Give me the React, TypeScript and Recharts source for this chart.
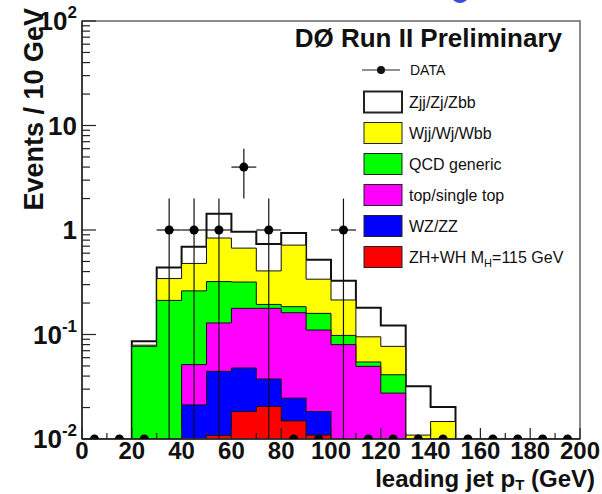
import React from 'react';
import {
  ComposedChart,
  Area,
  Scatter,
  ErrorBar,
  XAxis,
  YAxis,
  ReferenceArea,
  Legend,
  Label,
} from 'recharts';

const Y_MIN = 0.01;
const Y_MAX = 100;
const BIN_WIDTH = 10;
const FONT = '"Liberation Sans", Arial, Helvetica, sans-serif';

// lower edges of the 10 GeV bins
const binEdges = [0, 10, 20, 30, 40, 50, 60, 70, 80, 90, 100, 110, 120, 130, 140, 150, 160, 170, 180, 190];

// expected events per bin for each process
const zjjEvents = [0, 0, 0.007, 0.095, 0.213, 0.59, 0.292, 0.327, 0.218, 0.181, 0.112, 0.085, 0.045, 0.0211, 0.0055, 0, 0, 0, 0, 0];
const wjjEvents = [0, 0, 0.002, 0.131, 0.217, 0.517, 0.353, 0.212, 0.532, 0.179, 0.116, 0.0404, 0.0358, 0.0109, 0.0147, 0, 0, 0, 0, 0];
const qcdEvents = [0, 0, 0.077, 0.212, 0.21, 0.192, 0.14, 0.016, 0.023, 0.049, 0.018, 0.005, 0.0137, 0, 0, 0, 0, 0, 0, 0];
const topEvents = [0, 0, 0, 0, 0.0303, 0.0846, 0.13, 0.1405, 0.137, 0.092, 0.08, 0.0496, 0.0275, 0, 0, 0, 0, 0, 0, 0];
const dibosonEvents = [0, 0, 0, 0, 0.0212, 0.0336, 0.0295, 0.017, 0.0097, 0.0074, 0, 0, 0, 0, 0, 0, 0, 0, 0, 0];
const higgsEvents = [0, 0, 0, 0, 0, 0.0108, 0.0183, 0.0205, 0.0149, 0.0109, 0, 0, 0, 0, 0, 0, 0, 0, 0, 0];

// observed events per bin
const dataEvents = [0, 0, 0, 1, 1, 1, 4, 1, 0, 0, 1, 0, 0, 0, 0, 0, 0, 0, 0, 0];

const xMajorTicks = [0, 20, 40, 60, 80, 100, 120, 140, 160, 180, 200];
const xMinorTicks = [10, 30, 50, 70, 90, 110, 130, 150, 170, 190];
const yDecades = [0.01, 0.1, 1, 10, 100];
const yDecadeLabels = [['10', '-2'], ['10', '-1'], ['1', ''], ['10', ''], ['10', '2']];
const yMinorSteps = [2, 3, 4, 5, 6, 7, 8, 9];

// bottom of the stack first
const processes = [
  { key: 'higgs', name: 'ZH+WH M', sub: 'H', tail: '=115 GeV', color: '#ff0000', events: higgsEvents },
  { key: 'diboson', name: 'WZ/ZZ', color: '#0000ff', events: dibosonEvents },
  { key: 'top', name: 'top/single top', color: '#ff00ff', events: topEvents },
  { key: 'qcd', name: 'QCD generic', color: '#00ff00', events: qcdEvents },
  { key: 'wjj', name: 'Wjj/Wj/Wbb', color: '#ffff00', events: wjjEvents },
  { key: 'zjj', name: 'Zjj/Zj/Zbb', color: '#ffffff', events: zjjEvents },
];

const edges = [...binEdges, binEdges[binEdges.length - 1] + BIN_WIDTH];
const stackRows = edges.map((edge, i) => {
  const bin = Math.min(i, binEdges.length - 1);
  const row: Record<string, number> = { x: edge };
  let sum = 0;
  processes.forEach((p) => {
    sum += p.events[bin];
    row[p.key] = Math.max(sum, Y_MIN);
  });
  return row;
});

const dataPoints = dataEvents.map((n, i) => {
  const err = Math.sqrt(n);
  return {
    x: binEdges[i] + BIN_WIDTH / 2,
    y: Math.max(n, Y_MIN),
    yErr: n > 0 ? [Math.min(err, n - Y_MIN), err] : [0, 0],
    xErr: n > 0 ? BIN_WIDTH / 2 : 0,
  };
});

const yTicks = yDecades.flatMap((d, i) =>
  i < yDecades.length - 1 ? [d, ...yMinorSteps.map((m) => d * m)] : [d]
);
const xTicks = [...xMajorTicks, ...xMinorTicks].sort((a, b) => a - b);

const YTick = ({ x, y, payload }: any) => {
  const idx = yDecades.indexOf(payload.value);
  const major = idx >= 0;
  return (
    <g>
      <line x1={x} x2={x + (major ? 14 : 8)} y1={y} y2={y} stroke="#222" strokeWidth={1.2} />
      {major && (
        <text x={x - 5} y={y + 9} textAnchor="end" fontFamily={FONT} fontWeight="bold" fontSize={26} fill="#111">
          {yDecadeLabels[idx][0]}
          {yDecadeLabels[idx][1] && (
            <tspan dy={-12} fontSize={17}>
              {yDecadeLabels[idx][1]}
            </tspan>
          )}
        </text>
      )}
    </g>
  );
};

const XTick = ({ x, y, payload }: any) => {
  const major = xMajorTicks.includes(payload.value);
  return (
    <g>
      <line x1={x} x2={x} y1={y} y2={y - (major ? 11 : 6)} stroke="#222" strokeWidth={1.2} />
      {major && (
        <text x={x} y={y + 20} textAnchor="middle" fontFamily={FONT} fontWeight="bold" fontSize={24} fill="#111">
          {payload.value}
        </text>
      )}
    </g>
  );
};

const YTitle = () => (
  <text
    transform="translate(43, 8) rotate(-90)"
    textAnchor="end"
    fontFamily={FONT}
    fontWeight="bold"
    fontSize={27}
    fill="#111"
  >
    Events / 10 GeV
  </text>
);

const XTitle = () => (
  <text x={595} y={487} textAnchor="end" fontFamily={FONT} fontWeight="bold" fontSize={24} fill="#111">
    leading jet p<tspan dy={3} fontSize={15}>T</tspan>
    <tspan dy={-3}> (GeV)</tspan>
  </text>
);

const LegendBox = () => {
  const entries = [...processes].reverse();
  return (
    <svg width={300} height={260} style={{ overflow: 'visible' }}>
      <text x={272} y={27} textAnchor="end" fontFamily={FONT} fontWeight="bold" fontSize={26} fill="#111">
        DØ Run II Preliminary
      </text>
      <line x1={72} x2={110} y1={50} y2={50} stroke="#222" strokeWidth={1.2} />
      <circle cx={91} cy={50} r={4} fill="#111" />
      <text x={120} y={55} fontFamily={FONT} fontSize={14} fill="#111">
        DATA
      </text>
      {entries.map((p, i) => {
        const cy = 82 + i * 31;
        return (
          <g key={p.key}>
            <rect
              x={74}
              y={cy - 10.5}
              width={38}
              height={21}
              fill={p.color}
              stroke="#222"
              strokeWidth={p.key === 'zjj' ? 2 : 1}
            />
            <text x={119} y={cy + 6} fontFamily={FONT} fontSize={16} fill="#111">
              {p.name}
              {p.sub && (
                <tspan dy={4} fontSize={11}>
                  {p.sub}
                </tspan>
              )}
              {p.tail && <tspan dy={-4}>{p.tail}</tspan>}
            </text>
          </g>
        );
      })}
    </svg>
  );
};

export default function App() {
  return (
    <div style={{ position: 'absolute', left: 0, top: 0, width: 602, height: 494, background: '#fff' }}>
      <div
        style={{
          position: 'absolute',
          left: 452,
          top: -10,
          width: 16,
          height: 13,
          borderRadius: '50%',
          border: '3px solid #3a4ad8',
          boxSizing: 'border-box',
        }}
      />
      <ComposedChart
        width={602}
        height={494}
        data={stackRows}
        margin={{ top: 21, right: 22, bottom: 0, left: 0 }}
      >
        <XAxis
          dataKey="x"
          type="number"
          domain={[0, 200]}
          allowDataOverflow
          ticks={xTicks}
          interval={0}
          height={55}
          tickSize={0}
          tickMargin={0}
          tickLine={false}
          axisLine={{ stroke: '#222', strokeWidth: 1.5 }}
          tick={(props: any) => <XTick {...props} />}
        >
          <Label content={() => <XTitle />} />
        </XAxis>
        <YAxis
          type="number"
          scale="log"
          domain={[Y_MIN, Y_MAX]}
          allowDataOverflow
          ticks={yTicks}
          interval={0}
          width={82}
          tickSize={0}
          tickMargin={0}
          tickLine={false}
          axisLine={{ stroke: '#222', strokeWidth: 1.5 }}
          tick={(props: any) => <YTick {...props} />}
        >
          <Label content={() => <YTitle />} />
        </YAxis>
        {[...processes].reverse().map((p) => (
          <Area
            key={p.key}
            type="stepAfter"
            dataKey={p.key}
            name={p.name}
            baseValue={Y_MIN}
            fill={p.color}
            fillOpacity={1}
            stroke="#111"
            strokeWidth={p.key === 'zjj' ? 2 : 1}
            dot={false}
            activeDot={false}
            isAnimationActive={false}
          />
        ))}
        <Scatter data={dataPoints} dataKey="y" fill="#000" shape="circle" isAnimationActive={false}>
          <ErrorBar dataKey="yErr" direction="y" width={0} stroke="#111" strokeWidth={1.2} isAnimationActive={false} />
          <ErrorBar dataKey="xErr" direction="x" width={0} stroke="#111" strokeWidth={1.2} isAnimationActive={false} />
        </Scatter>
        <ReferenceArea
          x1={0}
          x2={200}
          y1={Y_MIN}
          y2={Y_MAX}
          fill="none"
          stroke="#666"
          strokeWidth={1.5}
          ifOverflow="visible"
        />
        <Legend
          layout="vertical"
          align="center"
          verticalAlign="middle"
          content={() => <LegendBox />}
          wrapperStyle={{ left: 290, top: 20, width: 300, height: 260 }}
        />
      </ComposedChart>
    </div>
  );
}
